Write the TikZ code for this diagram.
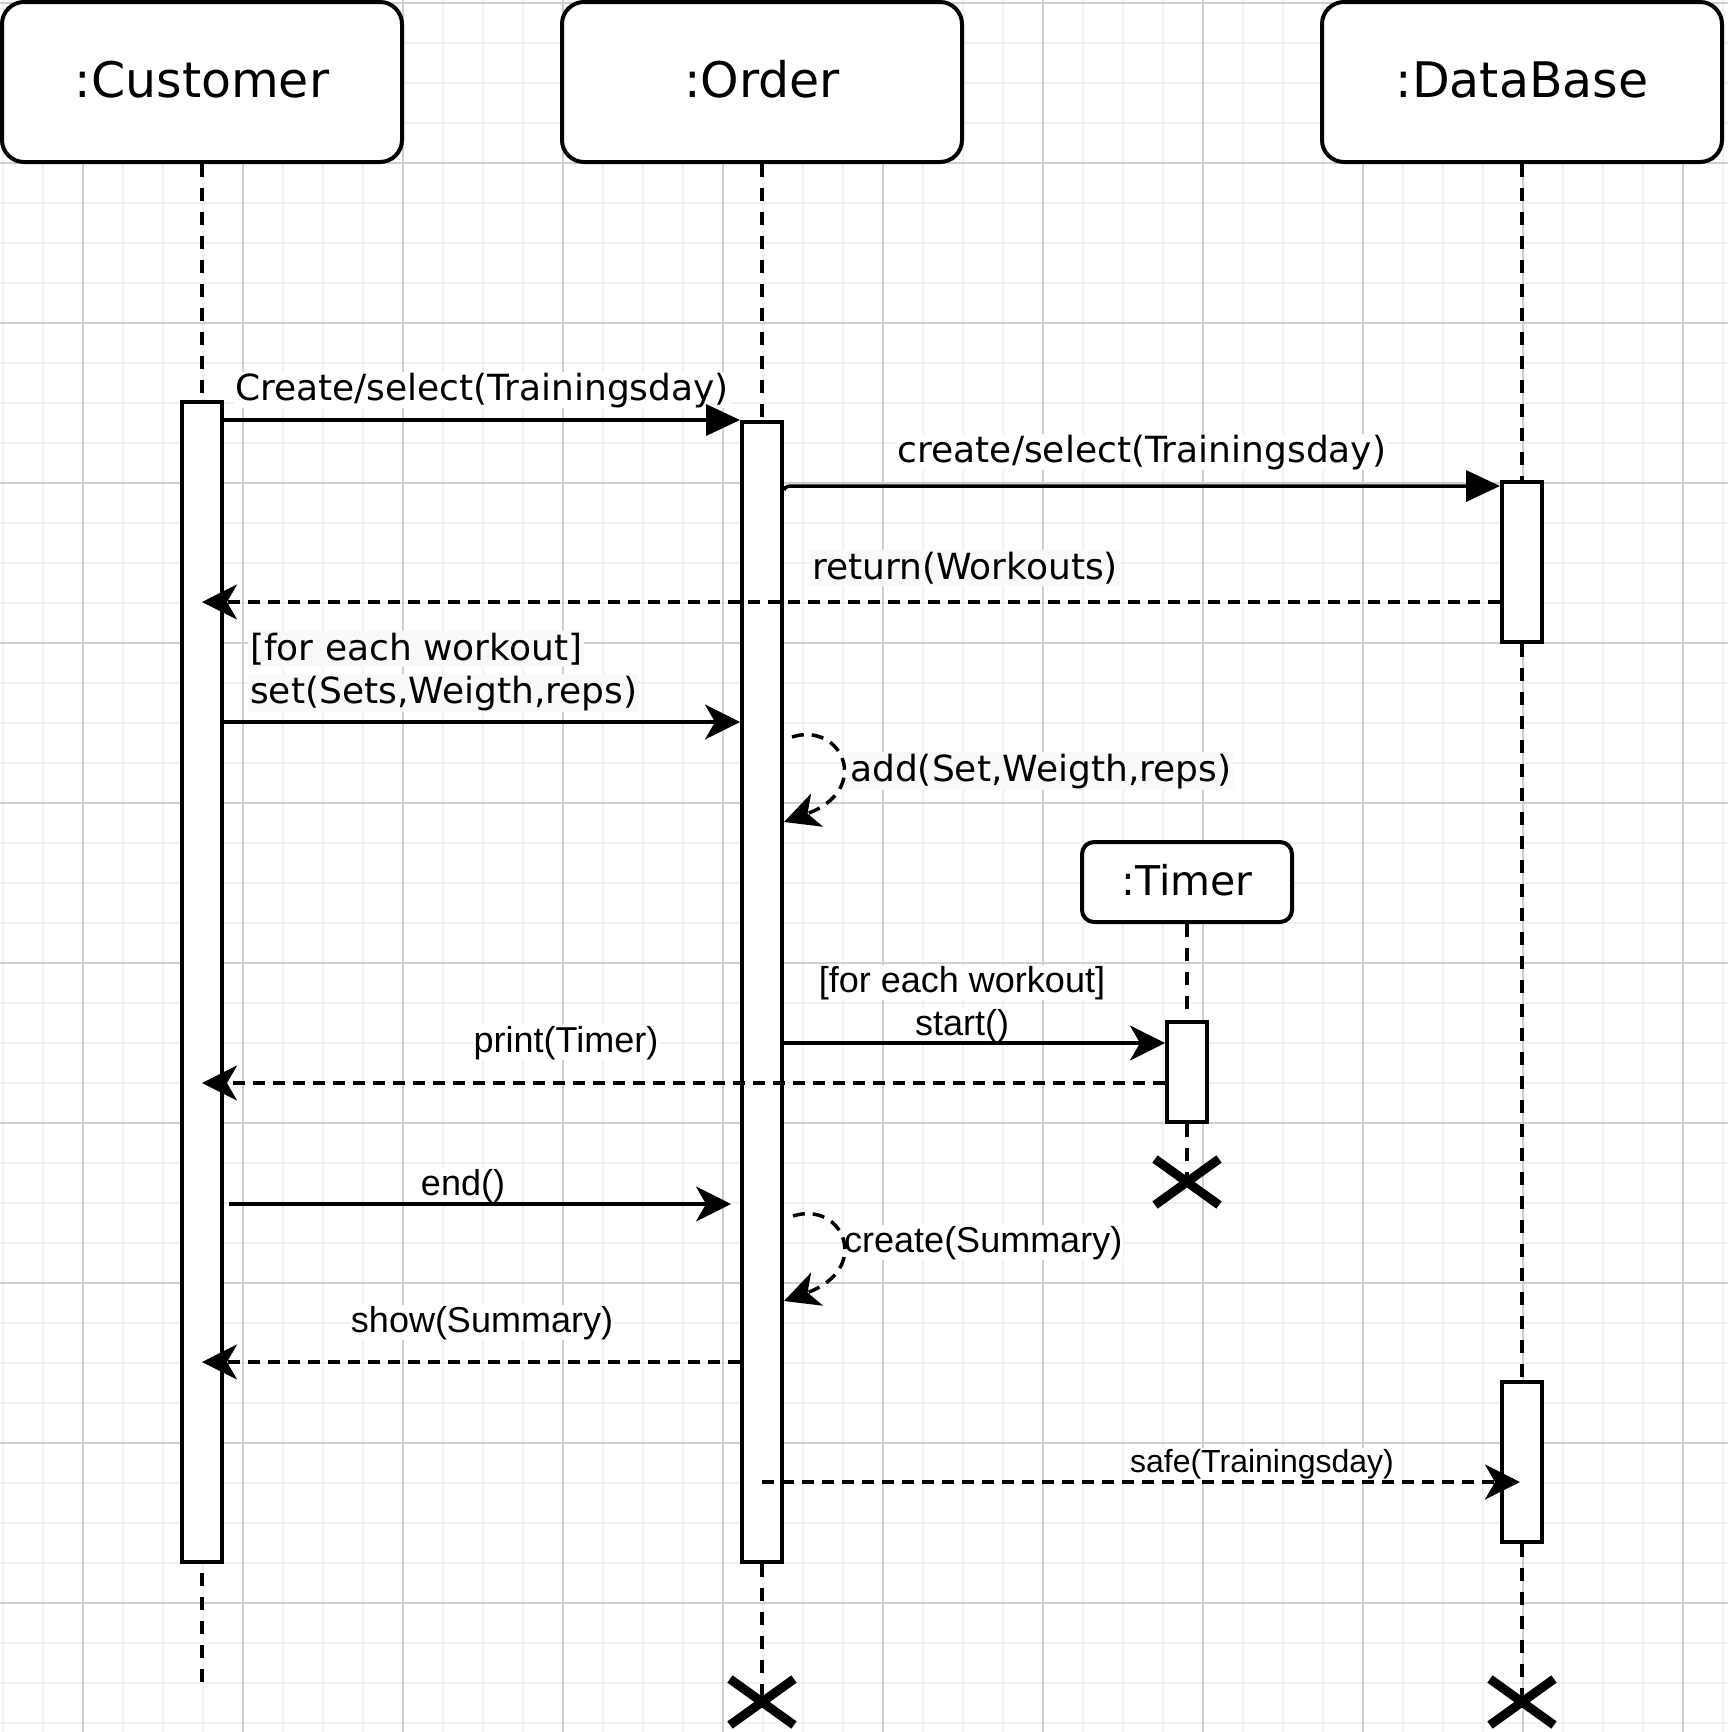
\documentclass[tikz,border=0pt]{standalone}
\usepackage{fontspec}
\usetikzlibrary{arrows.meta}
\newfontfamily\dvsans{DejaVu Sans}
\newfontfamily\arsans{Liberation Sans}
\definecolor{gridmajor}{RGB}{208,208,208}
\definecolor{gridminor}{RGB}{241,241,241}
\definecolor{labelbg}{RGB}{249,249,249}

\begin{document}
\begin{tikzpicture}[x=1pt,y=-1pt,
  head/.style={draw, line width=4pt, rounded corners=22pt, fill=white,
    minimum width=400pt, minimum height=160pt, inner sep=0pt,
    text height=37pt, text depth=7pt,
    font=\dvsans\fontsize{49}{59}\selectfont},
  timerbox/.style={draw, line width=4pt, rounded corners=12pt, fill=white,
    minimum width=210pt, minimum height=80pt, inner sep=0pt,
    text height=31pt, text depth=4pt,
    font=\dvsans\fontsize{41}{49}\selectfont},
  bar/.style={draw, line width=4pt, fill=white, minimum width=40pt, inner sep=0pt},
  life/.style={line width=3.5pt, dash pattern=on 13pt off 11pt},
  msg/.style={line width=3.5pt},
  ret/.style={line width=3.5pt, dash pattern=on 12pt off 8pt},
  blk/.style={-{Triangle[length=34pt,width=31pt]}},
  cls/.style={-{Stealth[length=35pt,width=35pt,inset=10pt]}},
  xmark/.style={line width=9pt},
  lbD/.style={font=\dvsans\fontsize{36}{43}\selectfont, inner sep=1pt, fill=white},
  lbDg/.style={font=\dvsans\fontsize{36}{43}\selectfont, inner sep=2pt, fill=labelbg},
  lbA/.style={font=\arsans\fontsize{36}{43}\selectfont, inner sep=1pt, fill=white},
  lbAs/.style={font=\arsans\fontsize{32}{38}\selectfont, inner sep=1pt, fill=white}
]
\useasboundingbox (0,0) rectangle (1728,1732);
\fill[white] (0,0) rectangle (1728,1732);

% background grid
\foreach \v in {3,43,...,1723} {
  \draw[gridminor, line width=2pt] (\v,0) -- (\v,1732);
  \draw[gridminor, line width=2pt] (0,\v) -- (1728,\v);
}
\foreach \v in {83,243,...,1683}
  \draw[gridmajor, line width=2pt] (\v,0) -- (\v,1732);
\foreach \v in {3,163,...,1603}
  \draw[gridmajor, line width=2pt] (0,\v) -- (1728,\v);

% participants
\node[head] (cust) at (202,82) {:Customer};
\node[head] (ord) at (762,82) {:Order};
\node[head] (db) at (1522,82) {:DataBase};
\node[timerbox] (timer) at (1187,882) {:Timer};

% activation bars
\node[bar, minimum height=1160pt] (cbar) at (202,982) {};
\node[bar, minimum height=1140pt] (obar) at (762,992) {};
\node[bar, minimum height=160pt] (dbar1) at (1522,562) {};
\node[bar, minimum height=160pt] (dbar2) at (1522,1462) {};
\node[bar, minimum height=100pt] (tbar) at (1187,1072) {};

% ends of the lifelines
\coordinate (cend) at (202,1683);
\coordinate (ox) at (762,1702);
\coordinate (dbx) at (1522,1702);
\coordinate (tx) at (1187,1182);

% lifelines
\draw[life] (cust.south) -- (cbar.north);
\draw[life, dash phase=15pt] (cbar.south) -- (cend);
\draw[life] (ord.south) -- (obar.north);
\draw[life] (obar.south) -- (ox);
\draw[life] (db.south) -- (dbar1.north);
\draw[life] (dbar1.south) -- (dbar2.north);
\draw[life] (dbar2.south) -- (dbx);
\draw[life] (timer.south) -- (tbar.north);
\draw[life] (tbar.south) -- (tx);

% message labels
\node[lbD, anchor=base] (l1) at (482,400) {Create/select(Trainingsday)};
\node[lbD, anchor=base] (l2) at (1142,462) {create/select(Trainingsday)};
\node[lbDg, anchor=base] (l3) at (965,579) {return(Workouts)};
\node[lbDg, anchor=base west] (l4a) at (248,660) {[for each workout]};
\node[lbDg, anchor=base west] (l4b) at (248,703) {set(Sets,Weigth,reps)};
\node[lbDg, anchor=base west] (l5) at (848,781) {add(Set,Weigth,reps)};
\node[lbA, anchor=base] (l6a) at (962,992) {[for each workout]};
\node[lbA, anchor=base] (l6b) at (962,1035) {start()};
\node[lbA, anchor=base] (l7) at (566,1052) {print(Timer)};
\node[lbA, anchor=base] (l8) at (463,1195) {end()};
\node[lbA, anchor=base west] (l9) at (843,1252) {create(Summary)};
\node[lbA, anchor=base] (l10) at (482,1332) {show(Summary)};
\node[lbAs, anchor=base] (l11) at (1262,1472) {safe(Trainingsday)};

% messages
\draw[msg, blk] (cbar.east |- obar.north west) -- (obar.north west);
\draw[msg, blk] (obar.east |- 0,490) .. controls (786,486) .. (800,486) -- (dbar1.west |- 0,486);
\draw[ret, cls] (dbar1.west |- 0,602) -- (cbar.center |- 0,602);
\draw[msg, cls] (cbar.east |- 0,722) -- (obar.west |- 0,722);
\draw[ret, cls] ([xshift=8pt]obar.east |- 0,737) .. controls +(50,-16) and +(89,-32) .. (obar.east |- 0,822);
\draw[msg, cls] (obar.east |- 0,1043) -- (tbar.west |- 0,1043);
\draw[ret, cls] (tbar.west |- 0,1083) -- (cbar.center |- 0,1083);
\draw[msg, cls] ([xshift=5pt]cbar.east |- 0,1204) -- ([xshift=-9pt]obar.west |- 0,1204);
\draw[ret, cls] ([xshift=9pt]obar.east |- 0,1216) .. controls +(50,-16) and +(89,-32) .. (obar.east |- 0,1301);
\draw[ret, cls] (obar.west |- 0,1362) -- (cbar.center |- 0,1362);
\draw[ret, cls] (obar.center |- 0,1482) -- ([xshift=-2pt]dbar2.center |- 0,1482);

% destruction marks
\foreach \p in {ox,dbx,tx} {
  \draw[xmark] ([shift={(-32,-23)}]\p) -- ([shift={(32,23)}]\p);
  \draw[xmark] ([shift={(-32,23)}]\p) -- ([shift={(32,-23)}]\p);
}
\end{tikzpicture}
\end{document}
